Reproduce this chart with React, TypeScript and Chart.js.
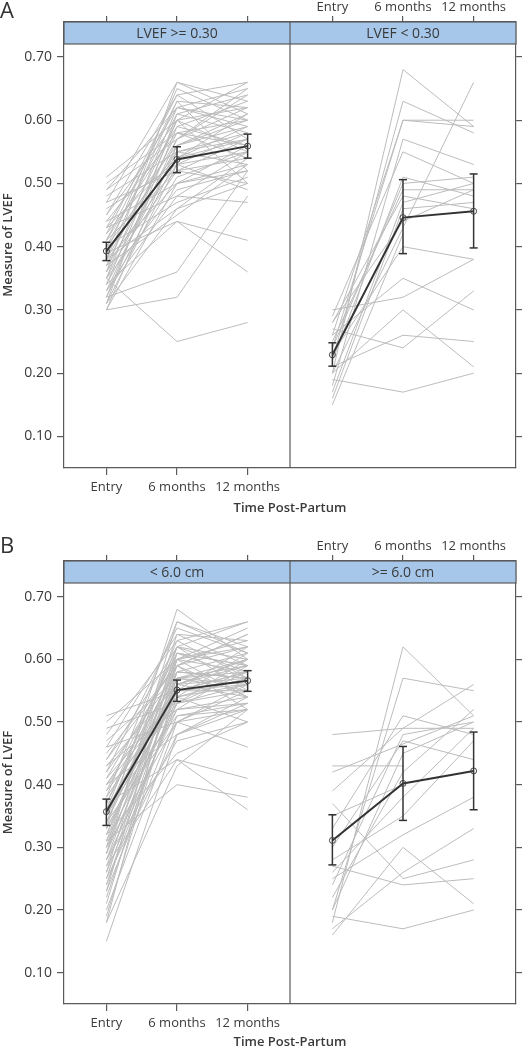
import React, { useEffect, useRef } from 'react';
import { Chart, registerables } from 'chart.js';

Chart.register(...registerables);

// ---------- data ----------
const timeLabels = ['Entry', '6 months', '12 months'];
const leftX = [1, 2, 3];
const rightX = [4.2, 5.2, 6.2];
const yTickValues = [0.1, 0.2, 0.3, 0.4, 0.5, 0.6, 0.7];

const stripLabelsA = ['LVEF >= 0.30', 'LVEF < 0.30'];
const stripLabelsB = ['< 6.0 cm', '>= 6.0 cm'];

// Panel A, LVEF >= 0.30 : [Entry, 6 months, 12 months]
const subjectsAHigh = [
  [0.51, 0.60, 0.62], [0.50, 0.58, 0.56], [0.49, 0.62, 0.60], [0.48, 0.55, 0.58],
  [0.47, 0.66, 0.63], [0.46, 0.53, 0.55], [0.45, 0.60, 0.66], [0.44, 0.50, 0.52],
  [0.44, 0.58, 0.54], [0.43, 0.62, 0.59], [0.43, 0.48, 0.55], [0.42, 0.56, 0.61],
  [0.42, 0.64, 0.57], [0.41, 0.52, 0.50], [0.41, 0.59, 0.63], [0.40, 0.55, 0.53],
  [0.40, 0.61, 0.58], [0.40, 0.47, 0.51], [0.39, 0.65, 0.60], [0.39, 0.54, 0.57],
  [0.39, 0.44, 0.41], [0.38, 0.57, 0.64], [0.38, 0.50, 0.56], [0.38, 0.63, 0.62],
  [0.37, 0.53, 0.49], [0.37, 0.60, 0.55], [0.37, 0.45, 0.53], [0.36, 0.58, 0.60],
  [0.36, 0.52, 0.54], [0.36, 0.66, 0.61], [0.35, 0.56, 0.59], [0.35, 0.49, 0.52],
  [0.35, 0.62, 0.65], [0.35, 0.25, 0.28], [0.34, 0.55, 0.57], [0.34, 0.60, 0.50],
  [0.34, 0.44, 0.36], [0.33, 0.51, 0.55], [0.33, 0.57, 0.62], [0.33, 0.48, 0.47],
  [0.32, 0.36, 0.52], [0.32, 0.54, 0.59], [0.32, 0.59, 0.56], [0.31, 0.46, 0.54],
  [0.31, 0.53, 0.58], [0.31, 0.61, 0.64], [0.30, 0.32, 0.48], [0.30, 0.50, 0.53],
  [0.30, 0.56, 0.60], [0.45, 0.64, 0.66], [0.47, 0.52, 0.57], [0.49, 0.57, 0.65],
  [0.43, 0.54, 0.61], [0.41, 0.63, 0.52], [0.38, 0.46, 0.50],
];
// Panel A, LVEF < 0.30
const subjectsALow = [
  [0.20, 0.68, 0.59], [0.22, 0.63, 0.58], [0.24, 0.60, 0.60], [0.26, 0.60, 0.59],
  [0.18, 0.57, 0.53], [0.20, 0.43, 0.66], [0.22, 0.51, 0.48], [0.25, 0.49, 0.49],
  [0.17, 0.47, 0.50], [0.28, 0.44, 0.49], [0.23, 0.40, 0.38], [0.30, 0.32, 0.38],
  [0.26, 0.35, 0.30], [0.20, 0.30, 0.21], [0.21, 0.26, 0.25], [0.27, 0.24, 0.33],
  [0.19, 0.17, 0.20], [0.16, 0.46, 0.47], [0.15, 0.42, null], [0.29, 0.55, 0.50],
  [0.24, 0.50, 0.51], [0.28, 0.48, 0.46],
];
const meanAHigh = [0.393, 0.538, 0.559];
const lowerAHigh = [0.378, 0.517, 0.540];
const upperAHigh = [0.407, 0.558, 0.578];
const meanALow = [0.229, 0.446, 0.456];
const lowerALow = [0.211, 0.389, 0.398];
const upperALow = [0.248, 0.506, 0.515];

// Panel B, < 6.0 cm
const subjectsBSmall = [
  [0.51, 0.55, 0.58], [0.50, 0.60, 0.62], [0.49, 0.53, 0.56], [0.48, 0.63, 0.57],
  [0.47, 0.57, 0.60], [0.46, 0.50, 0.52], [0.45, 0.59, 0.64], [0.44, 0.62, 0.55],
  [0.43, 0.56, 0.59], [0.43, 0.52, 0.54], [0.42, 0.65, 0.61], [0.42, 0.58, 0.57],
  [0.41, 0.54, 0.50], [0.41, 0.60, 0.63], [0.40, 0.48, 0.53], [0.40, 0.57, 0.56],
  [0.39, 0.61, 0.59], [0.39, 0.53, 0.58], [0.38, 0.66, 0.62], [0.38, 0.55, 0.55],
  [0.37, 0.59, 0.54], [0.37, 0.44, 0.41], [0.36, 0.56, 0.60], [0.36, 0.63, 0.66],
  [0.36, 0.51, 0.52], [0.35, 0.58, 0.57], [0.35, 0.54, 0.61], [0.35, 0.62, 0.58],
  [0.34, 0.50, 0.46], [0.34, 0.57, 0.59], [0.34, 0.60, 0.65], [0.33, 0.55, 0.56],
  [0.33, 0.52, 0.53], [0.33, 0.68, 0.60], [0.32, 0.59, 0.62], [0.32, 0.45, 0.50],
  [0.32, 0.56, 0.54], [0.31, 0.61, 0.57], [0.31, 0.53, 0.60], [0.31, 0.40, 0.38],
  [0.30, 0.57, 0.55], [0.30, 0.64, 0.63], [0.30, 0.50, 0.56], [0.29, 0.55, 0.58],
  [0.29, 0.60, 0.54], [0.28, 0.52, 0.59], [0.28, 0.58, 0.61], [0.27, 0.44, 0.36],
  [0.27, 0.56, 0.57], [0.26, 0.62, 0.60], [0.26, 0.53, 0.55], [0.25, 0.59, 0.64],
  [0.25, 0.48, 0.52], [0.24, 0.57, 0.58], [0.24, 0.54, 0.56], [0.23, 0.61, 0.59],
  [0.23, 0.51, 0.53], [0.22, 0.55, 0.62], [0.21, 0.58, 0.57], [0.20, 0.50, 0.55],
  [0.19, 0.56, 0.60], [0.18, 0.43, 0.52], [0.18, 0.60, 0.58], [0.15, 0.48, 0.54],
  [0.29, 0.66, 0.61], [0.37, 0.62, 0.66], [0.40, 0.54, 0.57], [0.44, 0.59, 0.52],
  [0.46, 0.64, 0.59], [0.28, 0.47, 0.50],
];
// Panel B, >= 6.0 cm
const subjectsBLarge = [
  [0.18, 0.62, 0.51], [0.20, 0.57, 0.55], [0.48, 0.49, 0.49], [0.43, 0.43, null],
  [0.39, 0.49, 0.56], [0.33, 0.51, 0.48], [0.37, 0.25, 0.28], [0.27, 0.24, 0.25],
  [0.16, 0.30, 0.21], [0.19, 0.17, 0.20], [0.17, 0.26, 0.33], [0.25, 0.32, 0.38],
  [0.24, 0.48, 0.50], [0.30, 0.47, 0.44], [0.22, 0.42, 0.52], [0.28, 0.35, 0.47],
  [0.35, 0.40, null], [0.20, 0.45, 0.50], [0.26, 0.38, 0.49], [0.42, null, 0.51],
];
const meanBSmall = [0.357, 0.551, 0.566];
const lowerBSmall = [0.335, 0.533, 0.549];
const upperBSmall = [0.377, 0.567, 0.582];
const meanBLarge = [0.311, 0.402, 0.422];
const lowerBLarge = [0.272, 0.343, 0.360];
const upperBLarge = [0.352, 0.461, 0.484];

// ---------- styles ----------
const FONT = '"Open Sans", "DejaVu Sans", sans-serif';
const AXIS_COLOR = '#5a5a5a';
const TEXT_COLOR = '#3a3a3a';
const SUBJECT_COLOR = '#bcbcbc';
const MEAN_COLOR = '#333333';
const STRIP_FILL = '#a6c7ea';

type Row = (number | null)[];

function subjectDatasets(rows: Row[], xs: number[]) {
  return rows.map((r) => ({
    data: xs.map((x, i) => ({ x, y: r[i] })),
    borderColor: SUBJECT_COLOR,
    borderWidth: 1,
    pointRadius: 0,
    spanGaps: true,
    fill: false,
    tension: 0,
    order: 3,
    xAxisID: 'x',
    yAxisID: 'y',
  }));
}

function meanDatasets(mean: number[], lower: number[], upper: number[], xs: number[]) {
  const sets: any[] = [
    {
      data: xs.map((x, i) => ({ x, y: mean[i] })),
      borderColor: MEAN_COLOR,
      borderWidth: 2,
      pointRadius: 3,
      pointStyle: 'circle',
      pointBackgroundColor: 'rgba(255,255,255,0)',
      pointBorderColor: '#444',
      pointBorderWidth: 1,
      fill: false,
      tension: 0,
      order: 0,
      xAxisID: 'x',
      yAxisID: 'y',
    },
  ];
  xs.forEach((x, i) => {
    sets.push({
      data: [
        { x, y: lower[i] },
        { x, y: upper[i] },
      ],
      borderColor: MEAN_COLOR,
      borderWidth: 1.5,
      pointStyle: 'line',
      pointRadius: 4,
      pointBorderWidth: 1.5,
      pointBorderColor: MEAN_COLOR,
      fill: false,
      order: 1,
      xAxisID: 'x',
      yAxisID: 'y',
    });
  });
  return sets;
}

type PanelProps = {
  letter: string;
  strips: string[];
  leftRows: Row[];
  rightRows: Row[];
  leftMean: number[];
  leftLower: number[];
  leftUpper: number[];
  rightMean: number[];
  rightLower: number[];
  rightUpper: number[];
  top: number;
  height: number;
  topAxisH: number;
  bottomAxisH: number;
  yMax: number;
  titlePadBottom: number;
  letterY: number;
};

function Panel(p: PanelProps) {
  const ref = useRef<HTMLCanvasElement | null>(null);
  useEffect(() => {
    if (!ref.current) return;
    const decor = {
      id: 'panelDecor',
      afterDraw(chart: any) {
        const { ctx, chartArea } = chart;
        const xs = chart.scales.x;
        const mid = xs.getPixelForValue(3.6);
        ctx.save();
        // strip
        const sh = 22;
        ctx.fillStyle = STRIP_FILL;
        ctx.fillRect(chartArea.left, chartArea.top, chartArea.right - chartArea.left, sh);
        ctx.strokeStyle = AXIS_COLOR;
        ctx.lineWidth = 1.2;
        ctx.strokeRect(chartArea.left, chartArea.top, chartArea.right - chartArea.left, sh);
        // divider
        ctx.beginPath();
        ctx.moveTo(mid, chartArea.top);
        ctx.lineTo(mid, chartArea.bottom);
        ctx.stroke();
        // strip labels
        ctx.fillStyle = TEXT_COLOR;
        ctx.font = `14px ${FONT}`;
        ctx.textAlign = 'center';
        ctx.textBaseline = 'middle';
        ctx.fillText(p.strips[0], (chartArea.left + mid) / 2, chartArea.top + sh / 2 + 1);
        ctx.fillText(p.strips[1], (mid + chartArea.right) / 2, chartArea.top + sh / 2 + 1);
        // panel letter
        ctx.font = `22px ${FONT}`;
        ctx.textAlign = 'left';
        ctx.fillStyle = '#333';
        ctx.fillText(p.letter, 0, p.letterY);
        ctx.restore();
      },
    };

    const fontTick = { family: FONT, size: 13 };
    const chart = new Chart(ref.current, {
      type: 'line',
      data: {
        datasets: [
          ...meanDatasets(p.leftMean, p.leftLower, p.leftUpper, leftX),
          ...meanDatasets(p.rightMean, p.rightLower, p.rightUpper, rightX),
          ...subjectDatasets(p.leftRows, leftX),
          ...subjectDatasets(p.rightRows, rightX),
        ] as any,
      },
      options: {
        animation: false,
        responsive: false,
        maintainAspectRatio: false,
        layout: { padding: 0 },
        plugins: { legend: { display: false }, tooltip: { enabled: false } },
        scales: {
          x: {
            type: 'linear',
            position: 'bottom',
            min: 0.4,
            max: 6.8,
            afterBuildTicks: (s: any) => {
              s.ticks = leftX.map((v) => ({ value: v }));
            },
            afterFit: (s: any) => {
              s.height = p.bottomAxisH;
            },
            ticks: {
              autoSkip: false,
              maxRotation: 0,
              padding: 4,
              color: TEXT_COLOR,
              font: fontTick,
              callback: (v: any) => {
                const i = leftX.indexOf(Number(v));
                return i >= 0 ? timeLabels[i] : '';
              },
            },
            grid: { drawOnChartArea: false, drawTicks: true, tickLength: 7, color: AXIS_COLOR, lineWidth: 1.2 },
            border: { display: true, color: AXIS_COLOR, width: 1.2 },
            title: {
              display: true,
              text: 'Time Post-Partum',
              color: TEXT_COLOR,
              font: { family: FONT, size: 13, weight: '600' },
              padding: { top: 0, bottom: p.titlePadBottom },
            },
          },
          x2: {
            type: 'linear',
            position: 'top',
            min: 0.4,
            max: 6.8,
            afterBuildTicks: (s: any) => {
              s.ticks = [...leftX, ...rightX].map((v) => ({ value: v }));
            },
            afterFit: (s: any) => {
              s.height = p.topAxisH;
            },
            ticks: {
              autoSkip: false,
              maxRotation: 0,
              padding: 1,
              color: TEXT_COLOR,
              font: fontTick,
              callback: (v: any) => {
                const i = rightX.indexOf(Number(v));
                return i >= 0 ? timeLabels[i] : '';
              },
            },
            grid: { drawOnChartArea: false, drawTicks: true, tickLength: 6, color: AXIS_COLOR, lineWidth: 1.2 },
            border: { display: true, color: AXIS_COLOR, width: 1.2 },
          },
          y: {
            type: 'linear',
            position: 'left',
            min: 0.05,
            max: p.yMax,
            afterBuildTicks: (s: any) => {
              s.ticks = yTickValues.map((v) => ({ value: v }));
            },
            afterFit: (s: any) => {
              s.width = 64;
            },
            ticks: {
              padding: 5,
              color: TEXT_COLOR,
              font: { family: FONT, size: 14 },
              callback: (v: any) => Number(v).toFixed(2),
            },
            grid: { drawOnChartArea: false, drawTicks: true, tickLength: 7, color: AXIS_COLOR, lineWidth: 1.2 },
            border: { display: true, color: AXIS_COLOR, width: 1.2 },
            title: {
              display: true,
              text: 'Measure of LVEF',
              color: TEXT_COLOR,
              font: { family: FONT, size: 13, weight: '600' },
              padding: { top: 0, bottom: 0 },
            },
          },
          y2: {
            type: 'linear',
            position: 'right',
            min: 0.05,
            max: p.yMax,
            afterBuildTicks: (s: any) => {
              s.ticks = yTickValues.map((v) => ({ value: v }));
            },
            afterFit: (s: any) => {
              s.width = 6;
            },
            ticks: { display: false },
            grid: { drawOnChartArea: false, drawTicks: true, tickLength: 6, color: AXIS_COLOR, lineWidth: 1.2 },
            border: { display: true, color: AXIS_COLOR, width: 1.2 },
          },
        },
      } as any,
      plugins: [decor],
    });
    return () => chart.destroy();
  }, []);
  return (
    <canvas
      ref={ref}
      width={522}
      height={p.height}
      style={{ position: 'absolute', left: 0, top: p.top, width: 522, height: p.height }}
    />
  );
}

export default function App() {
  return (
    <div style={{ position: 'absolute', left: 0, top: 0, width: 522, height: 1050, background: '#fff' }}>
      <Panel
        letter="A"
        strips={stripLabelsA}
        leftRows={subjectsAHigh}
        rightRows={subjectsALow}
        leftMean={meanAHigh}
        leftLower={lowerAHigh}
        leftUpper={upperAHigh}
        rightMean={meanALow}
        rightLower={lowerALow}
        rightUpper={upperALow}
        top={0}
        height={520}
        topAxisH={22}
        bottomAxisH={52}
        yMax={0.7553}
        titlePadBottom={4}
        letterY={12}
      />
      <Panel
        letter="B"
        strips={stripLabelsB}
        leftRows={subjectsBSmall}
        rightRows={subjectsBLarge}
        leftMean={meanBSmall}
        leftLower={lowerBSmall}
        leftUpper={upperBSmall}
        rightMean={meanBLarge}
        rightLower={lowerBLarge}
        rightUpper={upperBLarge}
        top={520}
        height={530}
        topAxisH={41}
        bottomAxisH={46}
        yMax={0.757}
        titlePadBottom={0}
        letterY={27}
      />
    </div>
  );
}
